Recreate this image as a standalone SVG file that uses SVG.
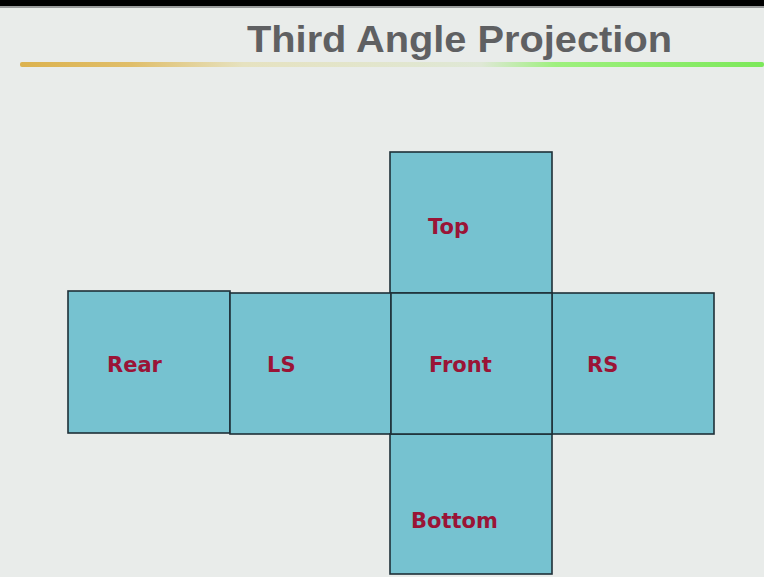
<svg xmlns="http://www.w3.org/2000/svg" width="764" height="577" viewBox="0 0 764 577">
<defs>
<linearGradient id="bar" x1="20" y1="0" x2="764" y2="0" gradientUnits="userSpaceOnUse">
<stop offset="0" stop-color="#dcb24e"/>
<stop offset="0.15" stop-color="#e0be6a"/>
<stop offset="0.3" stop-color="#e6e2c0"/>
<stop offset="0.62" stop-color="#dfe8d6"/>
<stop offset="0.72" stop-color="#9ef07e"/>
<stop offset="1" stop-color="#7ce85a"/>
</linearGradient>
</defs>
<style>
.face{fill:#76c2d0;stroke:#1f3038;stroke-width:1.6}
.lbl{font-family:"DejaVu Sans",Verdana,sans-serif;font-weight:bold;font-size:21px;fill:#9a1436}
.title{font-family:"Liberation Sans",Arial,sans-serif;font-weight:bold;font-size:36px;fill:#5f6062}
</style>
<rect x="0" y="0" width="764" height="577" fill="#e9ecea"/>
<rect x="0" y="0" width="764" height="6" fill="#000"/>
<rect x="0" y="6" width="764" height="2" fill="#9a9c9c"/>
<text class="title" x="247" y="52" textLength="425" lengthAdjust="spacingAndGlyphs">Third Angle Projection</text>
<rect x="20" y="62" width="744" height="5" rx="2" fill="url(#bar)"/>
<g id="top"><rect class="face" x="390" y="152" width="162" height="141"/><text class="lbl" x="428" y="234">Top</text></g>
<g id="rear"><rect class="face" x="68" y="291" width="162" height="142"/><text class="lbl" x="107" y="372">Rear</text></g>
<g id="ls"><rect class="face" x="230" y="293" width="161" height="141"/><text class="lbl" x="267" y="372">LS</text></g>
<g id="rs"><rect class="face" x="552" y="293" width="162" height="141"/><text class="lbl" x="587" y="372">RS</text></g>
<g id="bottom"><rect class="face" x="390" y="434" width="162" height="140"/><text class="lbl" x="411" y="528">Bottom</text></g>
<g id="front"><rect class="face" x="391" y="293" width="161" height="141"/><text class="lbl" x="429" y="372">Front</text></g>
<g id="connectors"/>
</svg>
